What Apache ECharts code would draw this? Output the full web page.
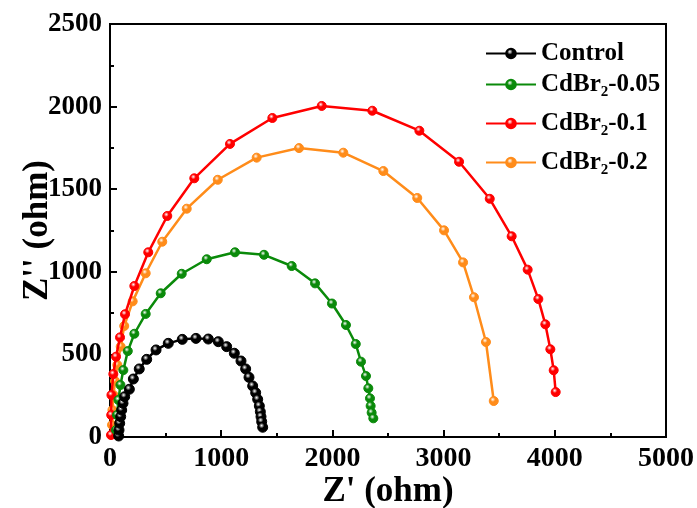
<!DOCTYPE html>
<html>
<head>
<meta charset="utf-8">
<script src="https://cdn.jsdelivr.net/npm/echarts@6/dist/echarts.min.js"></script>
<style>html,body{margin:0;padding:0;background:#fff}#c{width:697px;height:508px}</style>
</head>
<body>
<div id="c"></div>
<script>
const seriesNames = ['Control', 'CdBr2-0.05', 'CdBr2-0.1', 'CdBr2-0.2'];
const controlData = [[78,6],[81,42],[87,83],[96,123],[105,163],[117,204],[132,244],[174,289],[210,351],[263,412],[330,470],[414,527],[524,567],[650,591],[773,597],[884,593],[974,577],[1049,547],[1118,507],[1178,460],[1220,412],[1250,361],[1283,309],[1310,268],[1328,228],[1343,188],[1352,153],[1358,123],[1364,93],[1373,59]];
const cd005Data = [[54,42],[63,133],[76,224],[94,315],[120,405],[160,520],[219,625],[321,745],[456,870],[645,988],[870,1076],[1124,1118],[1385,1103],[1634,1035],[1844,930],[1996,808],[2122,678],[2210,563],[2257,456],[2302,369],[2323,295],[2338,234],[2344,188],[2353,147],[2368,113]];
const cd01Data = [[9,12],[11,133],[13,254],[30,381],[54,486],[90,603],[135,743],[219,914],[344,1118],[515,1338],[758,1566],[1079,1774],[1460,1931],[1904,2004],[2359,1975],[2782,1854],[3139,1666],[3415,1442],[3612,1215],[3756,1013],[3852,835],[3915,682],[3960,531],[3990,404],[4008,272]];
const cd02Data = [[18,73],[22,163],[31,254],[45,339],[66,436],[96,547],[128,672],[204,821],[321,991],[470,1182],[690,1382],[969,1557],[1319,1691],[1700,1749],[2098,1721],[2458,1610],[2763,1447],[3004,1251],[3175,1057],[3273,846],[3381,575],[3451,218]];
const xTicks = [0, 1000, 2000, 3000, 4000, 5000];
const yTicks = [0, 500, 1000, 1500, 2000, 2500];
const colors = ['#000000', '#0a8a0a', '#ff0000', '#ff8c1a'];
const allData = [controlData, cd005Data, cd01Data, cd02Data];

const FONT = '"Liberation Serif", "Times New Roman", serif';
function ball(c) {
  return {type: 'radial', x: 0.4, y: 0.35, r: 0.7,
    colorStops: [{offset: 0, color: '#ffffff'}, {offset: 0.35, color: c}, {offset: 1, color: c}]};
}
const rich = {
  a: {fontFamily: FONT, fontWeight: 'bold', fontSize: 25, color: '#000'},
  s: {fontFamily: FONT, fontWeight: 'bold', fontSize: 15, color: '#000', padding: [15, 0, 0, 0]}
};
function fmt(name) {
  if (name.indexOf('CdBr2') === 0) return '{a|CdBr}{s|2}{a|' + name.slice(5) + '}';
  return '{a|' + name + '}';
}
const legendTops = [36, 67, 106, 145];
const legends = seriesNames.map((n, i) => ({
  data: [n], left: 480, top: legendTops[i], orient: 'vertical',
  itemWidth: 50, itemHeight: 12, formatter: fmt,
  textStyle: {rich: rich, fontFamily: FONT, fontWeight: 'bold', fontSize: 25}
}));

const chart = echarts.init(document.getElementById('c'), null, {renderer: 'canvas'});
chart.setOption({
  animation: false,
  backgroundColor: '#fff',
  legend: legends,
  grid: {left: 110, right: 31, top: 24, bottom: 71, show: true, borderColor: '#000', borderWidth: 2,
    backgroundColor: 'transparent', containLabel: false, outerBoundsMode: 'none'},
  xAxis: {
    type: 'value', min: xTicks[0], max: xTicks[xTicks.length - 1], interval: 1000,
    name: "Z' (ohm)", nameLocation: 'middle', nameGap: 37, nameMoveOverlap: false,
    nameTextStyle: {fontFamily: FONT, fontWeight: 'bold', fontSize: 35, color: '#000'},
    axisLine: {show: true, lineStyle: {color: '#000', width: 2}},
    axisTick: {inside: true, length: 7, lineStyle: {color: '#000', width: 2}},
    minorTick: {show: true, splitNumber: 2, length: 4, lineStyle: {color: '#000', width: 2}},
    splitLine: {show: false},
    axisLabel: {fontFamily: FONT, fontWeight: 'bold', fontSize: 28, color: '#000', margin: 8,
      formatter: v => xTicks.indexOf(v) >= 0 ? String(v) : ''}
  },
  yAxis: {
    type: 'value', min: yTicks[0], max: yTicks[yTicks.length - 1], interval: 500,
    name: "Z'' (ohm)", nameLocation: 'middle', nameGap: 55, nameMoveOverlap: false,
    nameTextStyle: {fontFamily: FONT, fontWeight: 'bold', fontSize: 35, color: '#000'},
    axisLine: {show: true, lineStyle: {color: '#000', width: 2}},
    axisTick: {inside: true, length: 7, lineStyle: {color: '#000', width: 2}},
    minorTick: {show: true, splitNumber: 2, length: 4, lineStyle: {color: '#000', width: 2}},
    splitLine: {show: false},
    axisLabel: {fontFamily: FONT, fontWeight: 'bold', fontSize: 27, color: '#000', margin: 8,
      formatter: v => yTicks.indexOf(v) >= 0 ? String(v) : ''}
  },
  series: seriesNames.map((n, i) => ({
    name: n, type: 'line', data: allData[i],
    symbol: 'circle', symbolSize: i === 0 ? 10 : 9,
    lineStyle: {color: colors[i], width: 2.5},
    itemStyle: {color: ball(colors[i]), borderColor: colors[i], borderWidth: 1},
    z: 10 - i
  }))
});
</script>
</body>
</html>
